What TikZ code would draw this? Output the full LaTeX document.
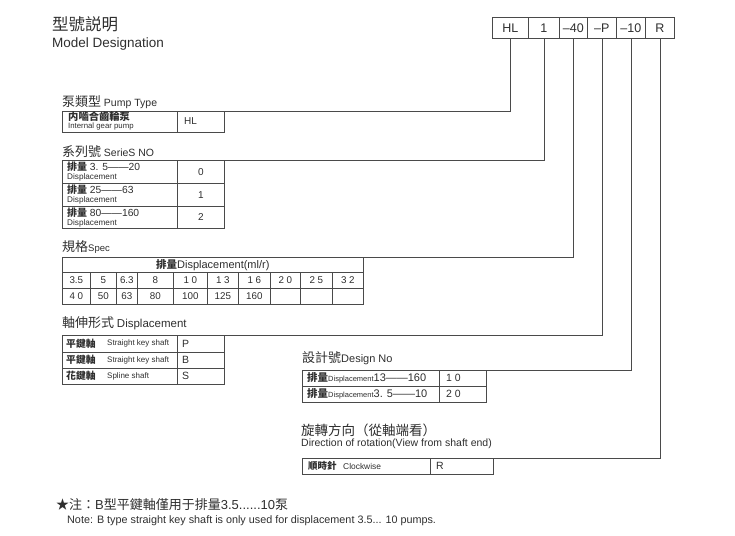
\documentclass[tikz,border=0pt]{standalone}
\usepackage{fontspec}
\setmainfont{Liberation Sans}
\newfontfamily\cjk{Noto Sans CJK TC}
\definecolor{linec}{HTML}{4A4A4A}
\definecolor{txtc}{HTML}{2E2E2E}
\newcommand\fs[1]{\fontsize{#1}{#1}\selectfont}
\begin{document}
\begin{tikzpicture}[x=1pt,y=-1pt,
  every node/.style={text=txtc, inner sep=0pt},
  cell/.style={draw=linec, line width=0.65pt, anchor=north west, inner sep=0pt},
  code/.style={cell, minimum height=21pt, font=\fs{12.5}},
  tl/.style={anchor=west},
  conn/.style={draw=linec, line width=0.65pt}]
\useasboundingbox (0,0) rectangle (735,535);

% heading
\node[tl] (h1) at (52,24) {\cjk\fs{16.5}型號説明};
\node[tl] (h2) at (52,44) {\fs{13.5}Model Designation};

% code boxes
\node[code, minimum width=36pt] (cHL) at (492,17) {HL};
\node[code, minimum width=31pt] (c1)  at (528,17) {1};
\node[code, minimum width=28pt] (c40) at (559,17) {–40};
\node[code, minimum width=29pt] (cP)  at (587,17) {–P};
\node[code, minimum width=29pt] (c10) at (616,17) {–10};
\node[code, minimum width=29pt] (cR)  at (645,17) {R};

% pump type
\node[tl] (tpump) at (62,102) {{\cjk\fs{13}泵類型} \fs{10.5}Pump Type};
\node[cell, minimum width=115pt, minimum height=21pt] (pmA) at (62,111) {};
\node[cell, minimum width=47pt, minimum height=21pt] (pmB) at (177,111) {};
\node[tl] (pmA1) at (68,116.5) {\cjk\bfseries\fs{10.3}内嚙合齒輪泵};
\node[tl] (pmA2) at (68,126.5) {\fs{7.8}Internal gear pump};
\node[tl] (pmB1) at (184,121.5) {\fs{10}HL};

% series
\node[tl] (tser) at (62,152) {{\cjk\fs{13}系列號} \fs{10.5}SerieS NO};
\node[cell, minimum width=115pt, minimum height=23pt] (srA1) at (62,160) {};
\node[cell, minimum width=47pt, minimum height=23pt] (srB1) at (177,160) {\fs{10}0};
\node[cell, minimum width=115pt, minimum height=23pt] (srA2) at (62,183) {};
\node[cell, minimum width=47pt, minimum height=23pt] (srB2) at (177,183) {\fs{10}1};
\node[cell, minimum width=115pt, minimum height=22pt] (srA3) at (62,206) {};
\node[cell, minimum width=47pt, minimum height=22pt] (srB3) at (177,206) {\fs{10}2};
\node[tl] (s1a) at (67,167) {{\cjk\bfseries\fs{10}排量} \fs{10.3}3. 5——20};
\node[tl] (s1b) at (67,177.5) {\fs{8.2}Displacement};
\node[tl] (s2a) at (67,190) {{\cjk\bfseries\fs{10}排量} \fs{10.3}25——63};
\node[tl] (s2b) at (67,200.5) {\fs{8.2}Displacement};
\node[tl] (s3a) at (67,213) {{\cjk\bfseries\fs{10}排量} \fs{10.3}80——160};
\node[tl] (s3b) at (67,223) {\fs{8.2}Displacement};

% spec
\node[tl] (tspec) at (62,247) {{\cjk\fs{13}規格}\fs{9.5}Spec};
\node[cell, minimum width=301pt, minimum height=15pt] (spH) at (62,257)
  {{\cjk\bfseries\fs{10.5}排量}\fs{11}Displacement(ml/r)};
\foreach \xa/\xb/\ta/\tb [count=\i] in
  {62/90/3.5/4 0, 90/116/5/50, 116/137/6.3/63, 137/173/8/80, 173/207/1 0/100,
   207/238/1 3/125, 238/270/1 6/160, 270/300/2 0/, 300/332/2 5/, 332/363/3 2/}{
  \pgfmathsetmacro\w{\xb-\xa}
  \node[cell, minimum width=\w pt, minimum height=16pt, font=\fs{9.8}] (spa\i) at (\xa,272) {\ta};
  \node[cell, minimum width=\w pt, minimum height=16pt, font=\fs{9.8}] (spb\i) at (\xa,288) {\tb};
}

% shaft
\node[tl] (tsh) at (62,323) {{\cjk\fs{13}軸伸形式} \fs{11.5}Displacement};
\node[cell, minimum width=115pt, minimum height=16.5pt] (shA1) at (62,335) {};
\node[cell, minimum width=47pt, minimum height=16.5pt] (shB1) at (177,335) {};
\node[cell, minimum width=115pt, minimum height=16.5pt] (shA2) at (62,351.5) {};
\node[cell, minimum width=47pt, minimum height=16.5pt] (shB2) at (177,351.5) {};
\node[cell, minimum width=115pt, minimum height=16pt] (shA3) at (62,368) {};
\node[cell, minimum width=47pt, minimum height=16pt] (shB3) at (177,368) {};
\node[tl] (sh1a) at (66,343.5) {\cjk\bfseries\fs{9.8}平鍵軸};
\node[tl] (sh1b) at (107,343.5) {\fs{8}Straight key shaft};
\node[tl] (sh1c) at (182,343.5) {\fs{10.5}P};
\node[tl] (sh2a) at (66,360) {\cjk\bfseries\fs{9.8}平鍵軸};
\node[tl] (sh2b) at (107,360) {\fs{8}Straight key shaft};
\node[tl] (sh2c) at (182,360) {\fs{10.5}B};
\node[tl] (sh3a) at (66,376) {\cjk\bfseries\fs{9.8}花鍵軸};
\node[tl] (sh3b) at (107,376) {\fs{8}Spline shaft};
\node[tl] (sh3c) at (182,376) {\fs{10.5}S};

% design no
\node[tl] (tdn) at (302,358) {{\cjk\fs{13}設計號}\fs{11}Design No};
\node[cell, minimum width=137pt, minimum height=16pt] (dnA1) at (302,370) {};
\node[cell, minimum width=47pt, minimum height=16pt] (dnB1) at (439,370) {};
\node[cell, minimum width=137pt, minimum height=16pt] (dnA2) at (302,386) {};
\node[cell, minimum width=47pt, minimum height=16pt] (dnB2) at (439,386) {};
\node[tl] (d1a) at (307,378) {{\cjk\bfseries\fs{10.5}排量}{\fs{7.5}Displacement}\fs{11}13——160};
\node[tl] (d1b) at (446,378) {\fs{10.5}1 0};
\node[tl] (d2a) at (307,394) {{\cjk\bfseries\fs{10.5}排量}{\fs{7.5}Displacement}\fs{11}3. 5——10};
\node[tl] (d2b) at (446,394) {\fs{10.5}2 0};

% rotation
\node[tl] (trA) at (301,430) {\cjk\fs{13.5}旋轉方向（從軸端看）};
\node[tl] (trB) at (301,444) {\fs{10.5}Direction of rotation(View from shaft end)};
\node[cell, minimum width=128pt, minimum height=16pt] (rtA) at (302,458) {};
\node[cell, minimum width=63pt, minimum height=16pt] (rtB) at (430,458) {};
\node[tl] (r1a) at (308,466) {\cjk\bfseries\fs{9.5}順時針};
\node[tl] (r1c) at (343,466) {\fs{8.4}Clockwise};
\node[tl] (r1b) at (436,466) {\fs{10.5}R};

% note
\node[tl] (n1) at (56,505) {\fs{13}{\cjk ★注：}B{\cjk 型平鍵軸僅用于排量}3.5......10{\cjk 泵}};
\node[tl] (n2) at (67,521) {\fs{10.8}Note: B type straight key shaft is only used for displacement 3.5... 10 pumps.};

% connectors
\draw[conn] (cHL.south) |- (pmB.north east);
\draw[conn] (c1.south) |- (srB1.north east);
\draw[conn] (c40.south) |- (spH.north east);
\draw[conn] (cP.south) |- (shB1.north east);
\draw[conn] (c10.south) |- (dnB1.north east);
\draw[conn] (cR.south) |- (rtB.north east);
\end{tikzpicture}
\end{document}
